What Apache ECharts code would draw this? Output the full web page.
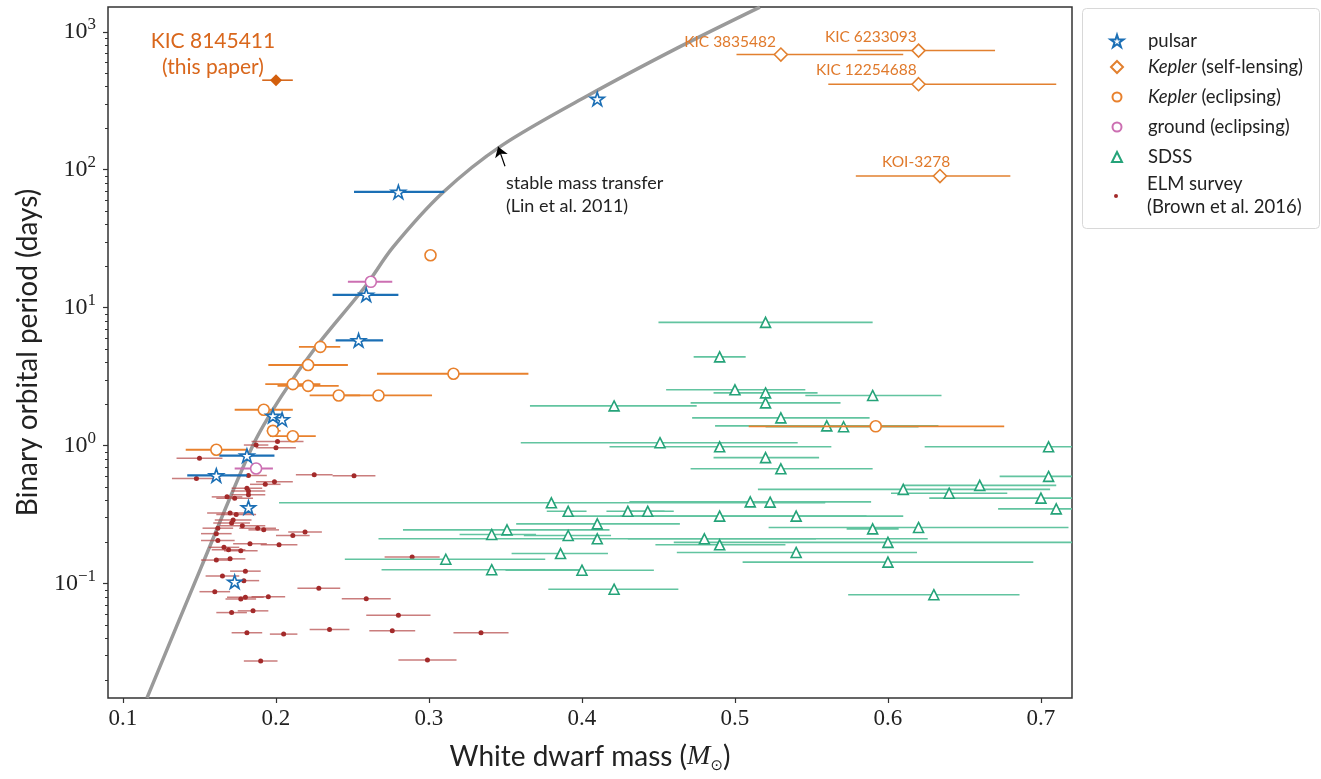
<!DOCTYPE html>
<html>
<head>
<meta charset="utf-8">
<script src="https://cdn.jsdelivr.net/npm/echarts@6/dist/echarts.min.js"></script>
<style>
  html, body { margin: 0; padding: 0; background: #fff; }
  #chart { width: 1321px; height: 779px; }
</style>
</head>
<body>
<div id="chart"></div>
<script>
// axis ticks
const xTicks = [0.1, 0.2, 0.3, 0.4, 0.5, 0.6, 0.7];
const yTicks = [0.1, 1, 10, 100, 1000];
const yMinorTicks = [
  0.02, 0.03, 0.04, 0.05, 0.06, 0.07, 0.08, 0.09,
  0.2, 0.3, 0.4, 0.5, 0.6, 0.7, 0.8, 0.9,
  2, 3, 4, 5, 6, 7, 8, 9,
  20, 30, 40, 50, 60, 70, 80, 90,
  200, 300, 400, 500, 600, 700, 800, 900
];

// rows: [mass, period (days), mass low, mass high]
const thisPaper = [[0.200, 446, 0.191, 0.211]];

const keplerLensing = [
  [0.530, 684, 0.501, 0.610],
  [0.620, 731, 0.580, 0.670],
  [0.620, 417, 0.561, 0.710],
  [0.634, 90, 0.579, 0.680]
];
const lensingNames = ["KIC 3835482", "KIC 6233093", "KIC 12254688", "KOI-3278"];

const pulsar = [
  [0.410, 326, 0.410, 0.410],
  [0.280, 69, 0.251, 0.310],
  [0.259, 12.4, 0.237, 0.280],
  [0.254, 5.8, 0.239, 0.270],
  [0.198, 1.64, 0.198, 0.198],
  [0.204, 1.55, 0.204, 0.204],
  [0.181, 0.845, 0.163, 0.199],
  [0.161, 0.608, 0.142, 0.181],
  [0.182, 0.356, 0.182, 0.182],
  [0.173, 0.103, 0.173, 0.173]
];

const keplerEclipsing = [
  [0.301, 24, 0.301, 0.301],
  [0.229, 5.2, 0.215, 0.242],
  [0.221, 3.84, 0.195, 0.247],
  [0.211, 2.79, 0.193, 0.229],
  [0.221, 2.71, 0.201, 0.241],
  [0.241, 2.31, 0.222, 0.255],
  [0.267, 2.31, 0.245, 0.302],
  [0.316, 3.32, 0.266, 0.365],
  [0.192, 1.82, 0.173, 0.211],
  [0.198, 1.28, 0.194, 0.203],
  [0.211, 1.17, 0.196, 0.226],
  [0.161, 0.933, 0.141, 0.181],
  [0.592, 1.38, 0.509, 0.676]
];

const groundEclipsing = [
  [0.262, 15.4, 0.247, 0.276],
  [0.187, 0.683, 0.173, 0.198]
];

const sdss = [
  [0.520, 7.83, 0.450, 0.590],
  [0.490, 4.40, 0.473, 0.507],
  [0.500, 2.54, 0.455, 0.546],
  [0.520, 2.41, 0.486, 0.554],
  [0.590, 2.31, 0.546, 0.635],
  [0.520, 2.04, 0.471, 0.569],
  [0.530, 1.59, 0.472, 0.588],
  [0.560, 1.39, 0.487, 0.633],
  [0.571, 1.37, 0.520, 0.620],
  [0.421, 1.94, 0.366, 0.475],
  [0.451, 1.05, 0.360, 0.541],
  [0.490, 0.98, 0.418, 0.563],
  [0.520, 0.818, 0.486, 0.555],
  [0.530, 0.679, 0.471, 0.590],
  [0.705, 0.98, 0.624, 0.740],
  [0.705, 0.598, 0.673, 0.740],
  [0.610, 0.482, 0.515, 0.706],
  [0.660, 0.515, 0.610, 0.710],
  [0.640, 0.452, 0.602, 0.678],
  [0.700, 0.416, 0.627, 0.740],
  [0.710, 0.348, 0.672, 0.740],
  [0.510, 0.391, 0.431, 0.589],
  [0.523, 0.389, 0.459, 0.559],
  [0.490, 0.308, 0.394, 0.586],
  [0.540, 0.308, 0.425, 0.610],
  [0.380, 0.385, 0.202, 0.559],
  [0.391, 0.334, 0.377, 0.403],
  [0.430, 0.334, 0.416, 0.454],
  [0.443, 0.334, 0.430, 0.460],
  [0.410, 0.271, 0.357, 0.464],
  [0.410, 0.211, 0.267, 0.553],
  [0.351, 0.245, 0.283, 0.418],
  [0.341, 0.227, 0.320, 0.370],
  [0.391, 0.223, 0.362, 0.419],
  [0.480, 0.211, 0.430, 0.626],
  [0.490, 0.191, 0.448, 0.533],
  [0.590, 0.249, 0.573, 0.607],
  [0.620, 0.255, 0.522, 0.718],
  [0.600, 0.199, 0.460, 0.740],
  [0.540, 0.168, 0.462, 0.619],
  [0.600, 0.143, 0.505, 0.695],
  [0.386, 0.165, 0.354, 0.417],
  [0.311, 0.150, 0.245, 0.376],
  [0.341, 0.126, 0.269, 0.400],
  [0.400, 0.125, 0.350, 0.447],
  [0.421, 0.091, 0.378, 0.463],
  [0.630, 0.083, 0.574, 0.686]
];

// ELM rows: [mass, period, mass error]
const elm = [
  [0.150, 0.809, 0.015], [0.148, 0.578, 0.016], [0.187, 1.01, 0.008],
  [0.201, 1.07, 0.017], [0.200, 0.964, 0.013], [0.225, 0.615, 0.012],
  [0.251, 0.604, 0.014], [0.182, 0.608, 0.012], [0.193, 0.524, 0.010],
  [0.199, 0.548, 0.012], [0.181, 0.491, 0.010], [0.182, 0.469, 0.011],
  [0.182, 0.440, 0.011], [0.168, 0.425, 0.010], [0.173, 0.416, 0.012],
  [0.170, 0.325, 0.015], [0.174, 0.316, 0.013], [0.172, 0.289, 0.012],
  [0.171, 0.275, 0.012], [0.178, 0.262, 0.015], [0.162, 0.252, 0.010],
  [0.188, 0.252, 0.012], [0.192, 0.245, 0.010], [0.161, 0.230, 0.010],
  [0.219, 0.236, 0.011], [0.211, 0.223, 0.011], [0.162, 0.205, 0.011],
  [0.183, 0.194, 0.011], [0.202, 0.191, 0.012], [0.166, 0.183, 0.010],
  [0.169, 0.176, 0.011], [0.177, 0.173, 0.011], [0.161, 0.148, 0.010],
  [0.170, 0.151, 0.010], [0.289, 0.156, 0.018], [0.180, 0.123, 0.010],
  [0.165, 0.1135, 0.011], [0.179, 0.105, 0.010], [0.160, 0.0873, 0.010],
  [0.228, 0.0923, 0.014], [0.180, 0.0794, 0.012], [0.177, 0.0773, 0.010],
  [0.195, 0.0803, 0.011], [0.259, 0.0776, 0.016], [0.171, 0.0616, 0.010],
  [0.185, 0.0634, 0.010], [0.280, 0.059, 0.021], [0.181, 0.044, 0.010],
  [0.205, 0.043, 0.009], [0.235, 0.0464, 0.013], [0.276, 0.0454, 0.015],
  [0.334, 0.044, 0.018], [0.190, 0.0274, 0.011], [0.299, 0.0279, 0.019]
];

// stable mass transfer relation (Lin et al. 2011)
const curveMass = [0.1157, 0.1508, 0.1851, 0.2039, 0.2266, 0.2582, 0.2765, 0.3089, 0.3477, 0.4033, 0.4641, 0.5163];
const curvePeriod = [0.01485, 0.1289, 1.013, 2.312, 5.274, 14.19, 27.44, 68.0, 150.1, 342.2, 780.7, 1511];

const arrowFrom = [0.3497, 106];
const arrowTo = [0.3452, 147];

const SANS = 'Lato, "Open Sans", sans-serif';
const SERIF = '"Liberation Serif", "DejaVu Serif", serif';
const STAR = 'path://M50,0 L61.2,34.5 L97.6,34.5 L68.2,55.9 L79.4,90.5 L50,69.1 L20.6,90.5 L31.8,55.9 L2.4,34.5 L38.8,34.5 Z';

const C = {
  pulsar: '#1b6fb5',
  lensing: '#e2802f',
  eclipsing: '#e8812d',
  ground: '#cc6fb2',
  sdss: '#25a379',
  sdssBar: '#62c4a0',
  elm: '#a32a2a',
  elmBar: 'rgba(180,70,70,0.7)',
  paper: '#d35f0d'
};

function barSeries(name, rows, color, width, z) {
  return {
    name: name + ' err', type: 'custom', z: z, clip: true, silent: true,
    data: rows,
    encode: { x: 0, y: 1 },
    renderItem: function (params, api) {
      const a = api.coord([api.value(2), api.value(1)]);
      const b = api.coord([api.value(3), api.value(1)]);
      return {
        type: 'line',
        shape: { x1: a[0], y1: a[1], x2: b[0], y2: b[1] },
        style: { stroke: color, lineWidth: width }
      };
    }
  };
}

function markerSeries(name, rows, symbol, size, color, filled, z) {
  return {
    name: name, type: 'scatter', z: z, symbol: symbol, symbolSize: size,
    symbolKeepAspect: true,
    data: rows.map(r => [r[0], r[1]]),
    itemStyle: {
      color: filled ? color : '#fff',
      borderColor: color,
      borderWidth: filled ? 0 : 1.6,
      opacity: 1
    },
    emphasis: { disabled: true }
  };
}

const elmRows = elm.map(r => [r[0], r[1], r[0] - r[2], r[0] + r[2]]);

const lensingMarkers = markerSeries('Kepler (self-lensing)', keplerLensing, 'diamond', 13, C.lensing, false, 8);
const labelPos = [[2.5, -5.5], [5.5, -6.5], [5.5, -6.5], [17.5, -6.5]];
lensingMarkers.data = keplerLensing.map((r, i) => ({
  value: [r[0], r[1]],
  label: {
    show: true, formatter: lensingNames[i], position: labelPos[i],
    align: 'right', verticalAlign: 'middle',
    color: '#e07a2c', fontFamily: SANS, fontSize: 15.5
  }
}));

const paperMarker = markerSeries('KIC 8145411', thisPaper, 'diamond', 12, C.paper, true, 11);
paperMarker.label = {
  show: true, formatter: 'KIC 8145411\n(this paper)', position: [-57, -20],
  align: 'center', verticalAlign: 'middle', lineHeight: 26,
  color: '#d9671c', fontFamily: SANS, fontSize: 21
};

const curve = {
  name: 'stable mass transfer', type: 'line', z: 1, smooth: 0.3,
  symbol: 'none', clip: true,
  data: curveMass.map((m, i) => [m, curvePeriod[i]]),
  lineStyle: { color: '#9a9a9a', width: 3.5 },
  silent: true,
  markLine: {
    silent: true, symbol: ['none', 'arrow'], symbolSize: 10,
    lineStyle: { color: '#000', width: 1.2, type: 'solid' },
    label: { show: false },
    data: [[{ coord: arrowFrom }, { coord: arrowTo }]]
  }
};

const legendRows = [
  { name: 'pulsar', y: 41, size: 13 },
  { name: 'Kepler (self-lensing)', y: 67, size: 12 },
  { name: 'Kepler (eclipsing)', y: 97, size: 9 },
  { name: 'ground (eclipsing)', y: 127, size: 9 },
  { name: 'SDSS', y: 157, size: 10 },
  { name: 'ELM survey', y: 196, size: 4 }
];

const legends = legendRows.map(l => ({
  data: [l.name],
  left: 1116 - l.size / 2,
  top: l.name === 'ELM survey' ? l.y - 23 : l.y - 11.5,
  padding: 0,
  itemWidth: l.size,
  itemHeight: l.size,
  symbolKeepAspect: true,
  selectedMode: false,
  formatter: function (name) {
    if (name.indexOf('Kepler') === 0) return '{i|Kepler}' + name.slice(6);
    if (name === 'ELM survey') return 'ELM survey\n(Brown et al. 2016)';
    return name;
  },
  textStyle: {
    fontFamily: SANS, fontSize: 18.5, color: '#222', lineHeight: 23,
    padding: [0, 0, 0, 26 - l.size / 2],
    rich: { i: { fontFamily: SANS, fontSize: 18.5, fontStyle: 'italic', color: '#222' } }
  }
}));

const option = {
  animation: false,
  backgroundColor: '#fff',
  grid: {
    left: 108, right: 249, top: 7, bottom: 73,
    show: true, borderColor: '#333', borderWidth: 1.5
  },
  xAxis: {
    type: 'value', min: 0.0902, max: 0.7203,
    name: '{n|White dwarf mass (}{m|M}{s|⊙}{n|)}',
    nameLocation: 'middle', nameGap: 42,
    nameTextStyle: {
      rich: {
        n: { fontFamily: SANS, fontSize: 28, color: '#222', lineHeight: 34 },
        m: { fontFamily: SERIF, fontSize: 28, fontStyle: 'italic', color: '#222', lineHeight: 34 },
        s: { fontFamily: '"DejaVu Sans", sans-serif', fontSize: 15, color: '#222', verticalAlign: 'bottom', lineHeight: 15 }
      }
    },
    axisLine: { show: false },
    splitLine: { show: false },
    axisTick: { show: true, customValues: xTicks, length: 5, lineStyle: { color: '#333', width: 1.2 } },
    axisLabel: {
      customValues: xTicks, margin: 9,
      fontFamily: SERIF, fontSize: 23, color: '#222',
      formatter: v => v.toFixed(1)
    }
  },
  yAxis: [
    {
      type: 'log', min: 0.0148, max: 1513, logBase: 10,
      name: 'Binary orbital period (days)',
      nameLocation: 'middle', nameGap: 66,
      nameTextStyle: { fontFamily: SANS, fontSize: 28, color: '#222' },
      axisLine: { show: false },
      splitLine: { show: false },
      axisTick: { show: true, customValues: yTicks, length: 5, lineStyle: { color: '#333', width: 1.2 } },
      axisLabel: {
        customValues: yTicks, margin: 12,
        formatter: function (v) {
          const e = Math.round(Math.log10(v));
          return '{b|10}{e|' + (e < 0 ? '\u2212' + (-e) : e) + '}';
        },
        rich: {
          b: { fontFamily: SERIF, fontSize: 24, color: '#222', lineHeight: 32 },
          e: { fontFamily: SERIF, fontSize: 17, color: '#222', verticalAlign: 'top', lineHeight: 17 }
        }
      }
    },
    {
      type: 'log', min: 0.0148, max: 1513, logBase: 10, position: 'left',
      axisLine: { show: false },
      splitLine: { show: false },
      axisTick: { show: true, customValues: yMinorTicks, length: 3, lineStyle: { color: '#333', width: 1 } },
      axisLabel: { show: false }
    }
  ],
  legend: legends,
  graphic: [
    {
      type: 'rect', left: 1082, top: 8, z: -1,
      shape: { width: 237, height: 220, r: 4 },
      style: { fill: '#fff', stroke: '#d8d8d8', lineWidth: 1 }
    },
    {
      type: 'text', left: 506, top: 172,
      style: { text: 'stable mass transfer\n(Lin et al. 2011)', font: '18px ' + SANS, fill: '#222', lineHeight: 23 }
    }
  ],
  series: [
    curve,
    barSeries('ELM survey', elmRows, C.elmBar, 1.5, 2),
    markerSeries('ELM survey', elm, 'circle', 5, C.elm, true, 3),
    barSeries('SDSS', sdss, C.sdssBar, 1.6, 4),
    markerSeries('SDSS', sdss, 'triangle', 10, C.sdss, false, 5),
    barSeries('ground (eclipsing)', groundEclipsing, C.ground, 2, 6),
    markerSeries('ground (eclipsing)', groundEclipsing, 'circle', 11, C.ground, false, 6),
    barSeries('Kepler (eclipsing)', keplerEclipsing, C.eclipsing, 1.8, 7),
    markerSeries('Kepler (eclipsing)', keplerEclipsing, 'circle', 11, C.eclipsing, false, 7),
    barSeries('Kepler (self-lensing)', keplerLensing, C.lensing, 1.5, 8),
    lensingMarkers,
    barSeries('pulsar', pulsar, C.pulsar, 2.2, 9),
    markerSeries('pulsar', pulsar, STAR, 14, C.pulsar, false, 10),
    barSeries('KIC 8145411', thisPaper, C.paper, 1.5, 11),
    paperMarker
  ]
};

const chart = echarts.init(document.getElementById('chart'));
chart.setOption(option);
</script>
</body>
</html>
